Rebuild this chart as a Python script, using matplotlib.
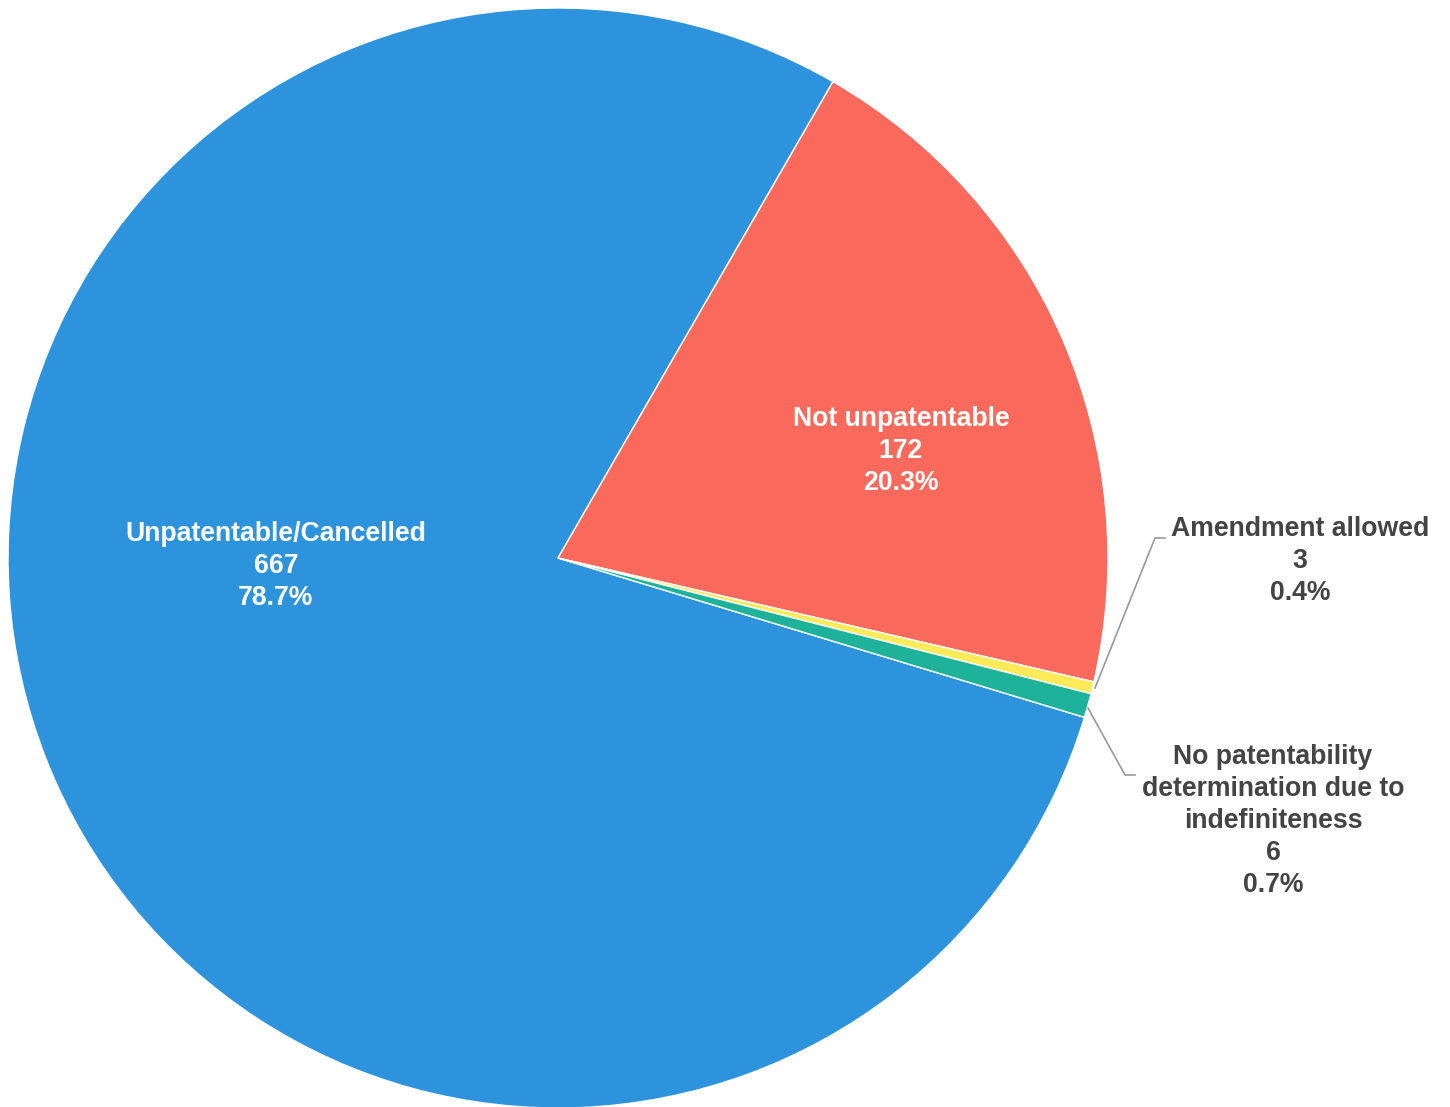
import matplotlib.pyplot as plt

categories = [
    "Unpatentable/Cancelled",
    "Not unpatentable",
    "Amendment allowed",
    "No patentability\ndetermination due to\nindefiniteness",
]
counts = [667, 172, 3, 6]
colors = ["#2E93DD", "#FA6A5C", "#FFEB5A", "#1FB29A"]

total = sum(counts)
percents = [c / total * 100 for c in counts]

plt.rcParams["font.family"] = ["Liberation Sans", "DejaVu Sans"]

W, H = 1450, 1107
fig = plt.figure(figsize=(W / 100, H / 100), dpi=100)
ax = fig.add_axes([0, 0, 1, 1])

cx, cy, r = 558, H - 558, 550
start = 60 + counts[0] / total * 360  # blue ends at 60 deg going clockwise
ax.pie(counts, colors=colors, center=(cx, cy), radius=r, startangle=start,
       counterclock=False, wedgeprops=dict(edgecolor="white", linewidth=1))
ax.set_xlim(0, W)
ax.set_ylim(0, H)
ax.set_aspect("equal")
ax.axis("off")

def label(i):
    return f"{categories[i]}\n{counts[i]}\n{percents[i]:.1f}%"

fs = 19.2
ls = 1.3
# inside labels
ax.text(276, H - 566, label(0), ha="center", va="center", color="white",
        fontsize=fs, fontweight="bold", linespacing=ls)
ax.text(901, H - 451, label(1), ha="center", va="center", color="white",
        fontsize=fs, fontweight="bold", linespacing=ls)

# outside labels with connectors
ax.plot([1095, 1155, 1165], [H - 688, H - 538, H - 538], color="#999999", lw=1.2)
ax.text(1300, H - 561, label(2), ha="center", va="center", color="#444444",
        fontsize=fs, fontweight="bold", linespacing=ls)

ax.plot([1088, 1125, 1135], [H - 708, H - 775, H - 775], color="#999999", lw=1.2)
ax.text(1273, H - 821, label(3), ha="center", va="center", color="#444444",
        fontsize=fs, fontweight="bold", linespacing=ls)

fig.savefig("out.png", dpi=100)
